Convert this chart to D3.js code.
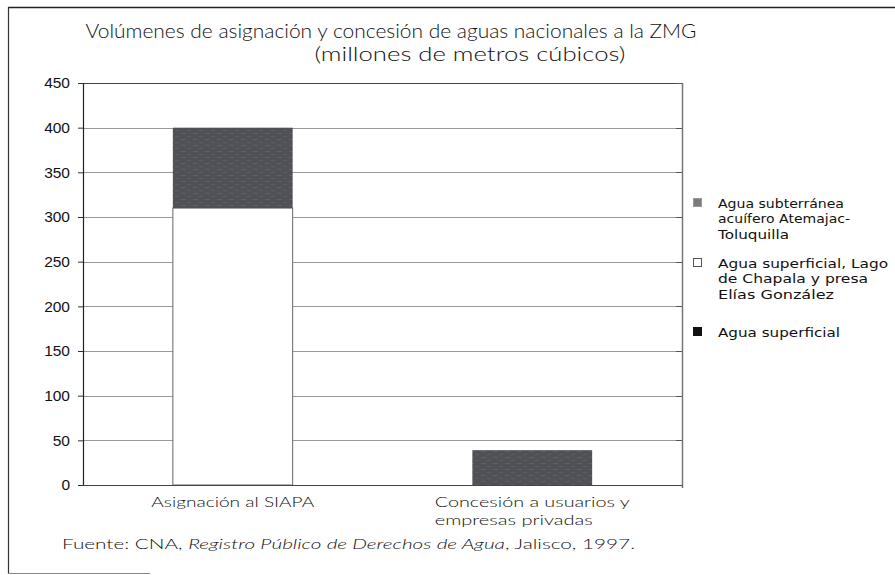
<!DOCTYPE html>
<html>
<head>
<meta charset="utf-8">
<script src="https://cdn.jsdelivr.net/npm/d3@7"></script>
<style>
  html, body { margin: 0; padding: 0; background: #fff; }
  svg { display: block; }
</style>
</head>
<body>
<svg id="chart" width="895" height="575"></svg>
<script>
// ---- Data ----
const titleLines = ["Volúmenes de asignación y concesión de aguas nacionales a la ZMG", "(millones de metros cúbicos)"];
const categories = ["Asignación al SIAPA", "Concesión a usuarios y empresas privadas"];
const categoryLabelLines = [["Asignación al SIAPA"], ["Concesión a usuarios y", "empresas privadas"]];
const seriesNames = [
  "Agua superficial, Lago de Chapala y presa Elías González",
  "Agua subterránea acuífero Atemajac-Toluquilla",
  "Agua superficial"
];
const chapalaValues = [310, 0];
const subterraneaValues = [90, 39];
const superficialValues = [0, 0];
const yTicks = [0, 50, 100, 150, 200, 250, 300, 350, 400, 450];
const legendOrder = [1, 0, 2];
const legendLines = [
  ["Agua subterránea", "acuífero Atemajac-", "Toluquilla"],
  ["Agua superficial, Lago", "de Chapala y presa", "Elías González"],
  ["Agua superficial"]
];
const sourceNote = ["Fuente: CNA, ", "Registro Público de Derechos de Agua", ", Jalisco, 1997."];

// ---- Layout ----
const svg = d3.select("#chart");
const plot = { left: 83, right: 682, top: 83, bottom: 485 };
const geoFont = "Lato, 'Open Sans', sans-serif";
const sansFont = "'Liberation Sans', Arial, sans-serif";
const legendFontFamily = "'DejaVu Sans', sans-serif";

const table = categories.map((c, i) => ({
  category: c,
  [seriesNames[0]]: chapalaValues[i],
  [seriesNames[1]]: subterraneaValues[i],
  [seriesNames[2]]: superficialValues[i]
}));
const stacked = d3.stack().keys(seriesNames)(table);

const x = d3.scaleBand().domain(categories).range([plot.left, plot.right])
  .paddingInner(0.6).paddingOuter(0.3);
const y = d3.scaleLinear().domain([0, 450]).range([plot.bottom, plot.top]);

// pattern for groundwater
const defs = svg.append("defs");
const pat = defs.append("pattern").attr("id", "sub").attr("patternUnits", "userSpaceOnUse")
  .attr("width", 12).attr("height", 6);
pat.append("rect").attr("width", 12).attr("height", 6).attr("fill", "#505157");
pat.append("rect").attr("x", 1).attr("y", 1).attr("width", 5).attr("height", 1).attr("fill", "#5f6066");
pat.append("rect").attr("x", 7).attr("y", 4).attr("width", 4).attr("height", 1).attr("fill", "#5c5d63");

const fills = ["#ffffff", "url(#sub)", "#111111"];
const strokes = ["#666", "none", "none"];

// outer frame
svg.append("line").attr("x1", 8).attr("x2", 895).attr("y1", 7.5).attr("y2", 7.5).attr("stroke", "#222").attr("stroke-width", 1.5);
svg.append("line").attr("x1", 8.5).attr("x2", 8.5).attr("y1", 7).attr("y2", 574).attr("stroke", "#333").attr("stroke-width", 1.2);
svg.append("line").attr("x1", 8).attr("x2", 150).attr("y1", 573.5).attr("y2", 573.5).attr("stroke", "#888").attr("stroke-width", 1);

// title
const titleCenters = [391, 470];
const titleBaselines = [38, 61];
const titleWidths = [611, 311];
titleLines.forEach((t, i) => {
  svg.append("text").attr("x", titleCenters[i]).attr("y", titleBaselines[i])
    .attr("text-anchor", "middle").attr("font-family", geoFont).attr("font-size", 19.5)
    .attr("font-weight", 300)
    .attr("fill", "#111").attr("textLength", titleWidths[i]).attr("lengthAdjust", "spacingAndGlyphs")
    .text(t);
});

// gridlines
svg.append("g").selectAll("line").data(yTicks.filter(d => d > 0 && d < 450)).join("line")
  .attr("x1", plot.left).attr("x2", plot.right)
  .attr("y1", d => Math.round(y(d)) + 0.5).attr("y2", d => Math.round(y(d)) + 0.5)
  .attr("stroke", "#9a9a9a").attr("stroke-width", 1);

// plot border top & right
svg.append("line").attr("x1", plot.left).attr("x2", plot.right).attr("y1", plot.top + 0.5).attr("y2", plot.top + 0.5)
  .attr("stroke", "#444").attr("stroke-width", 1);
svg.append("line").attr("x1", plot.right + 0.5).attr("x2", plot.right + 0.5).attr("y1", plot.top).attr("y2", plot.bottom + 3)
  .attr("stroke", "#777").attr("stroke-width", 1.5);
svg.append("g").selectAll("line").data(yTicks).join("line")
  .attr("x1", plot.right - 6).attr("x2", plot.right)
  .attr("y1", d => Math.round(y(d)) + 0.5).attr("y2", d => Math.round(y(d)) + 0.5)
  .attr("stroke", "#555");

// bars
svg.append("g").selectAll("g").data(stacked).join("g")
  .attr("fill", (d, i) => fills[i]).attr("stroke", (d, i) => strokes[i])
  .selectAll("rect").data(d => d.filter(p => p[1] - p[0] > 0)).join("rect")
  .attr("x", d => x(d.data.category))
  .attr("width", x.bandwidth())
  .attr("y", d => y(d[1]))
  .attr("height", d => y(d[0]) - y(d[1]))
  .attr("stroke-width", 1);

// y axis
const yAxis = svg.append("g").attr("transform", `translate(${plot.left},0)`)
  .call(d3.axisLeft(y).tickValues(yTicks).tickSize(5).tickPadding(8));
yAxis.select(".domain").attr("stroke", "#222").attr("stroke-width", 1.2);
yAxis.selectAll(".tick line").attr("stroke", "#333");
yAxis.selectAll("text").attr("font-family", sansFont).attr("font-size", 15.5).attr("fill", "#111");

// x axis
const xAxis = svg.append("g").attr("transform", `translate(0,${plot.bottom})`)
  .call(d3.axisBottom(x).tickSize(0).tickFormat(""));
xAxis.select(".domain").attr("stroke", "#444").attr("stroke-width", 1.2);

// category labels (one text element per category, lines as tspans)
const catLabelBaseline = 507;
const catLineStep = 17.6;
const catLineWidths = [[163], [195, 158]];
categoryLabelLines.forEach((lines, i) => {
  const cx = x(categories[i]) + x.bandwidth() / 2;
  const w = d3.max(catLineWidths[i]);
  const t = svg.append("text").attr("font-family", geoFont).attr("font-size", 14.5)
    .attr("font-weight", 300).attr("fill", "#111");
  lines.forEach((l, j) => {
    t.append("tspan").attr("x", cx - w / 2).attr("y", catLabelBaseline + j * catLineStep)
      .attr("textLength", catLineWidths[i][j]).attr("lengthAdjust", "spacingAndGlyphs").text(l);
  });
});

// legend (one text element per item, lines as tspans)
const legendX = 693, legendTextX = 718;
const legendFirstBaseline = [208, 268, 337];
const legendFont = 13;
const legendStep = 15.3;
const legendLineWidths = [[126, 132, 71], [170, 150, 116], [122]];
legendOrder.forEach((si, k) => {
  const base = legendFirstBaseline[k];
  svg.append("rect").attr("x", legendX + 0.5).attr("y", base - 9.5).attr("width", 8).attr("height", 8)
    .attr("fill", si === 1 ? "#7a7a7f" : fills[si])
    .attr("stroke", si === 0 ? "#555" : (si === 1 ? "#999" : "#111")).attr("stroke-width", 1);
  const t = svg.append("text").attr("font-family", legendFontFamily).attr("font-size", legendFont).attr("fill", "#111");
  legendLines[k].forEach((l, j) => {
    t.append("tspan").attr("x", legendTextX).attr("y", base + j * legendStep)
      .attr("textLength", legendLineWidths[k][j]).attr("lengthAdjust", "spacingAndGlyphs").text(l);
  });
});

// source note
const src = svg.append("text").attr("x", 62).attr("y", 549)
  .attr("font-family", geoFont).attr("font-size", 14.5).attr("font-weight", 300).attr("fill", "#111")
  .attr("textLength", 573).attr("lengthAdjust", "spacingAndGlyphs");
src.append("tspan").text(sourceNote[0]);
src.append("tspan").attr("font-style", "italic").text(sourceNote[1]);
src.append("tspan").text(sourceNote[2]);
</script>
</body>
</html>
